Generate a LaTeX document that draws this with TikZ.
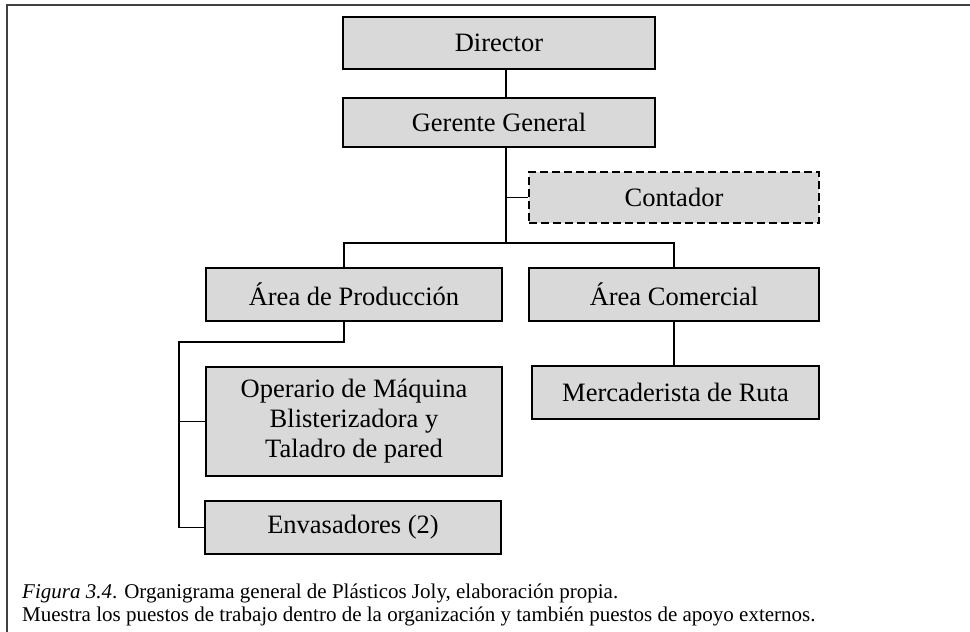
\documentclass[tikz,border=0pt]{standalone}
\usepackage{fontspec}
\setmainfont{Liberation Serif}
\definecolor{boxfill}{HTML}{D9D9D9}
\definecolor{framecol}{HTML}{404040}
\tikzset{
  orgbox/.style={draw=black, line width=2.4pt, fill=boxfill, inner sep=0pt,
    font=\fontsize{26.5}{30}\selectfont, align=center},
  extbox/.style={orgbox, dash pattern=on 8pt off 4pt},
  link/.style={draw=black, line width=1.6pt},
  captxt/.style={anchor=base west, inner sep=0pt, font=\fontsize{21}{23}\selectfont}
}
\begin{document}
\begin{tikzpicture}[x=1pt,y=-1pt]
\useasboundingbox (0,0) rectangle (970,632);
\fill[white] (0,0) rectangle (970,632);
\draw[line width=2pt, framecol] (7,632) -- (7,5) -- (970,5);

\node[orgbox, minimum width=312pt, minimum height=52pt] (dir) at (499,43) {Director};
\node[orgbox, minimum width=312pt, minimum height=49pt] (ger) at (499,122.5) {Gerente General};
\node[extbox, minimum width=290pt, minimum height=51pt] (cont) at (674,197.5) {Contador};
\node[orgbox, minimum width=296pt, minimum height=53pt] (prod) at (354,294.5) {Área de Producción};
\node[orgbox, minimum width=290pt, minimum height=53pt] (com) at (674,294.5) {Área Comercial};
\node[orgbox, minimum width=296pt, minimum height=109pt] (op) at (354,421.5) {Operario de Máquina\\Blisterizadora y\\Taladro de pared};
\node[orgbox, minimum width=296pt, minimum height=53pt] (env) at (353,527.5) {Envasadores (2)};
\node[orgbox, minimum width=287pt, minimum height=53pt] (merc) at (675.5,392.5) {Mercaderista de Ruta};

\coordinate (j1) at (506,243);
\coordinate (bl) at (344,243);
\coordinate (br) at (674,243);
\coordinate (p1) at (344,342);
\coordinate (p2) at (179,342);

\path[link] (dir.south -| j1) -- (ger.north -| j1);
\path[link] (ger.south -| j1) -- (j1);
\path[link] (cont.west -| j1) -- (cont.west);
\path[link] (prod.north -| bl) -- (bl) -- (br) -- (com.north -| br);
\path[link] (prod.south -| p1) -- (p1) -- (p2) -- (env.west -| p2) -- (env.west);
\path[link] (op.west -| p2) -- (op.west);
\path[link] (com.south) -- (merc.north -| com.south);

\node[captxt] (cap1) at (22,598) {\textit{Figura 3.4}. Organigrama general de Plásticos Joly, elaboración propia.};
\node[captxt] (cap2) at (22,621) {Muestra los puestos de trabajo dentro de la organización y también puestos de apoyo externos.};
\end{tikzpicture}
\end{document}
